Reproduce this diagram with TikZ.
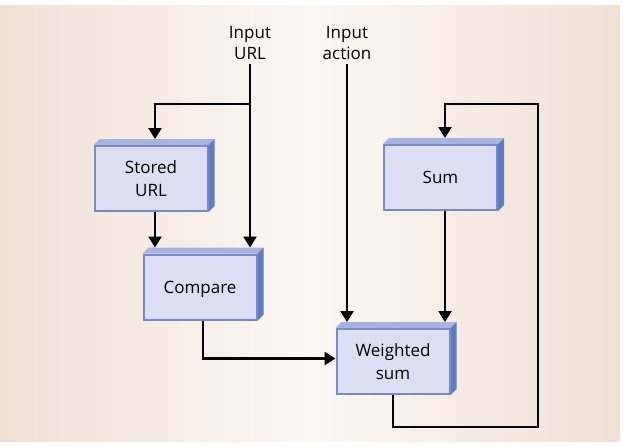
\documentclass[tikz,border=0pt]{standalone}
\usepackage{fontspec}
\setmainfont{Open Sans}
\usetikzlibrary{arrows.meta}

\definecolor{boxfill}{RGB}{220,222,241}
\definecolor{boxedge}{RGB}{116,138,205}
\definecolor{boxtop}{RGB}{166,180,223}
\definecolor{boxside}{RGB}{94,124,192}
\definecolor{bgedge}{RGB}{240,224,212}
\definecolor{bgmid}{RGB}{252,247,244}

\pgfdeclarelayer{bg}
\pgfdeclarelayer{faces}
\pgfsetlayers{bg,faces,main}

\tikzset{
  block/.style={draw=boxedge, fill=boxfill, line width=2pt,
    minimum width=113pt, minimum height=65pt, inner sep=0pt,
    align=center, font=\fontsize{17}{23}\selectfont},
  inlabel/.style={align=center, inner sep=0pt, font=\fontsize{17}{21}\selectfont},
  wire/.style={line width=2.6pt, black},
  arr/.style={wire, -{Triangle[length=11pt,width=13pt]}},
}

% top and right faces that make a block look raised
\newcommand\raisedfaces[1]{%
  \begin{pgfonlayer}{faces}
    \fill[boxtop] (#1.north west) -- ++(6,-6)
      -- ([shift={(6,-6)}]#1.north east) -- (#1.north east) -- cycle;
    \fill[boxside] (#1.north east) -- ++(6,-6)
      -- ([shift={(6,-6)}]#1.south east) -- (#1.south east) -- cycle;
  \end{pgfonlayer}}

\begin{document}
\begin{tikzpicture}[x=1pt,y=-1pt]
  \useasboundingbox (0,0) rectangle (623,445);
  \begin{pgfonlayer}{bg}
    \shade[left color=bgedge, right color=bgedge, middle color=bgmid]
      (0,5) rectangle (620,441);
  \end{pgfonlayer}

  % blocks
  \node[block] (stored)  at (151,178.5) {Stored\\URL};
  \node[block, text depth=0pt] (compare) at (200,287) {Compare};
  \node[block] (sum)     at (440.5,177.5) {Sum};
  \node[block] (wsum)    at (393,361.5) {Weighted\\sum};
  \foreach \b in {stored,compare,sum,wsum} {\raisedfaces{\b}}

  % inputs
  \node[inlabel] (inurl) at (250,43) {Input\\URL};
  \node[inlabel] (inact) at (347,43) {Input\\action};

  % helper points
  \coordinate (sttop)  at ([yshift=6pt]stored.north);
  \coordinate (cmptop) at ([yshift=6pt]compare.north);
  \coordinate (sumtop) at ([yshift=6pt]sum.north);
  \coordinate (wstop)  at ([yshift=6pt]wsum.north);
  \coordinate (lx) at (155,0);
  \coordinate (ax) at (445,0);
  \coordinate (br) at (250,104);
  \coordinate (lp1) at (538,427);
  \coordinate (lp2) at (538,104);

  % connectors
  \draw[arr] ([yshift=-4pt]inurl.south) -- (cmptop -| inurl);
  \draw[arr] (br) -| (sttop -| lx);
  \draw[arr] (stored.south -| lx) -- (cmptop -| lx);
  \draw[arr] ([xshift=3pt]compare.south) |- ([yshift=3pt]wsum.west);
  \draw[arr] ([yshift=-4pt]inact.south) -- (wstop -| inact);
  \draw[arr] (sum.south -| ax) -- (wstop -| ax);
  \draw[arr] (wsum.south) |- (lp1) -- (lp2) -| (sumtop -| ax);
\end{tikzpicture}
\end{document}
